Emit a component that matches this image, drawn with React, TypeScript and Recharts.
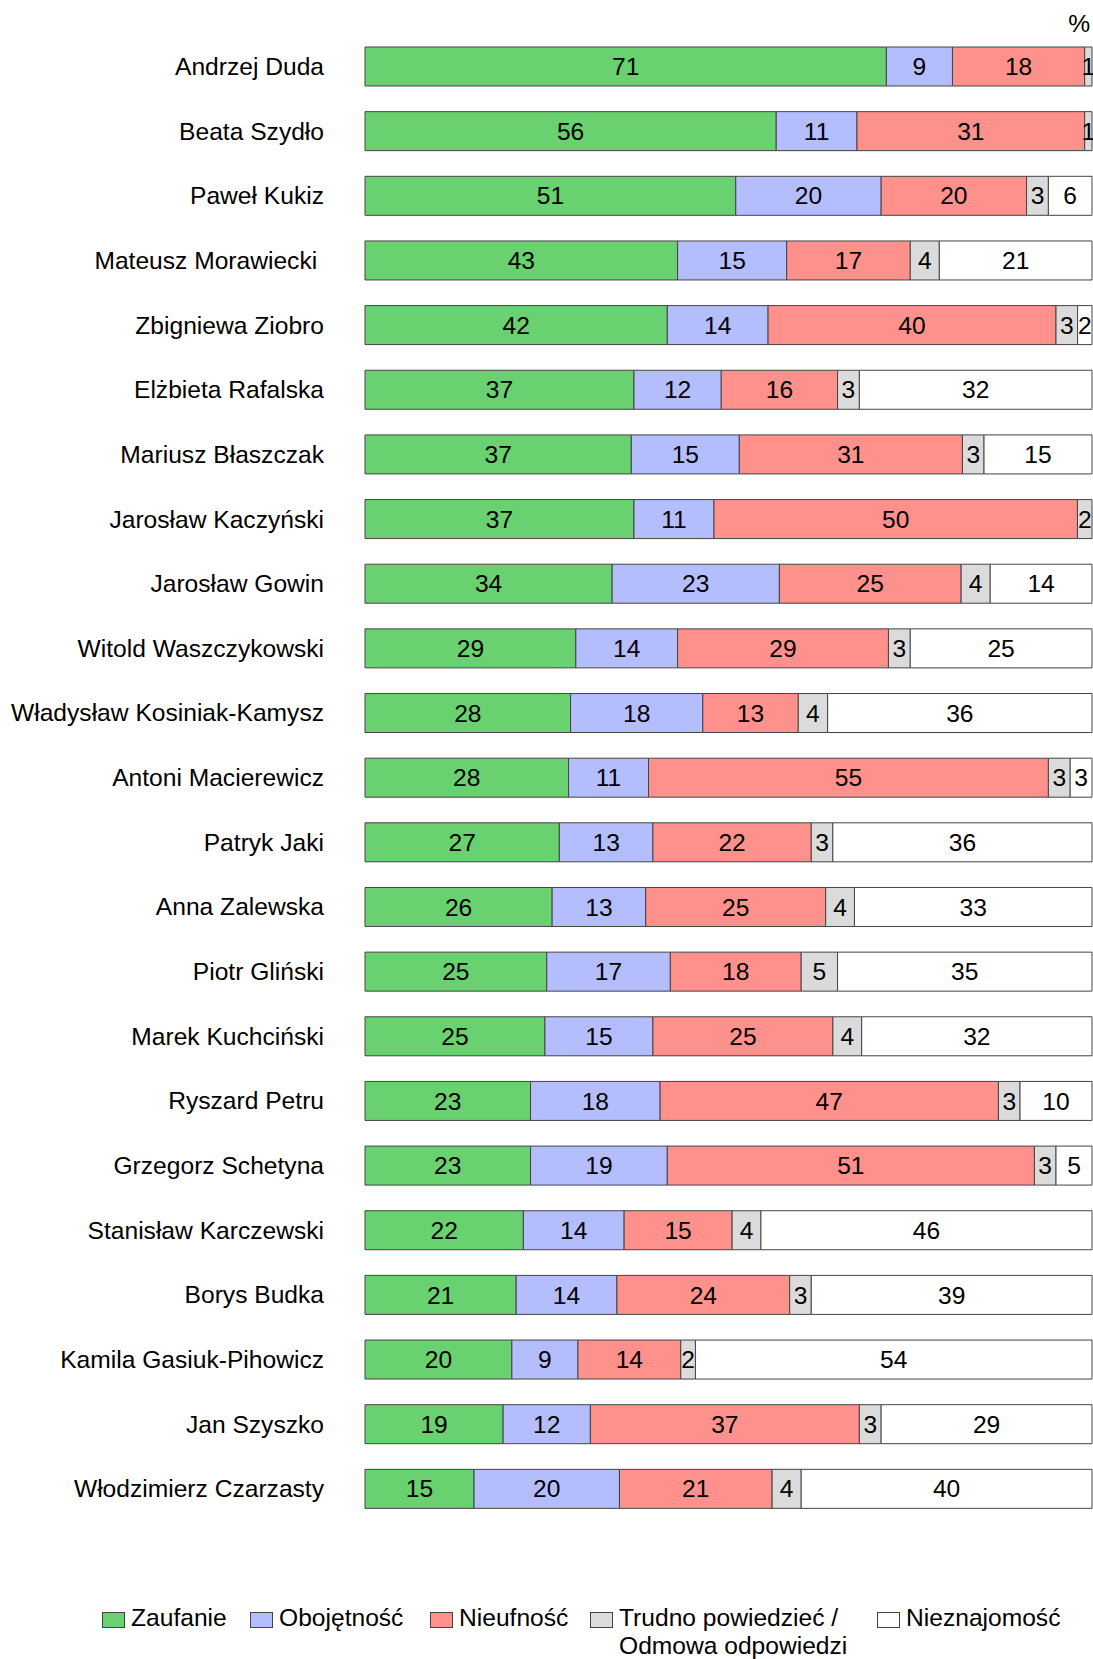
import React from 'react';
import { BarChart, Bar, XAxis, YAxis, LabelList } from 'recharts';

const names = [
  'Andrzej Duda',
  'Beata Szydło',
  'Paweł Kukiz',
  'Mateusz Morawiecki ',
  'Zbigniewa Ziobro',
  'Elżbieta Rafalska',
  'Mariusz Błaszczak',
  'Jarosław Kaczyński',
  'Jarosław Gowin',
  'Witold Waszczykowski',
  'Władysław Kosiniak-Kamysz',
  'Antoni Macierewicz',
  'Patryk Jaki',
  'Anna Zalewska',
  'Piotr Gliński',
  'Marek Kuchciński',
  'Ryszard Petru',
  'Grzegorz Schetyna',
  'Stanisław Karczewski',
  'Borys Budka',
  'Kamila Gasiuk-Pihowicz',
  'Jan Szyszko',
  'Włodzimierz Czarzasty',
];

const zaufanie = [71, 56, 51, 43, 42, 37, 37, 37, 34, 29, 28, 28, 27, 26, 25, 25, 23, 23, 22, 21, 20, 19, 15];
const obojetnosc = [9, 11, 20, 15, 14, 12, 15, 11, 23, 14, 18, 11, 13, 13, 17, 15, 18, 19, 14, 14, 9, 12, 20];
const nieufnosc = [18, 31, 20, 17, 40, 16, 31, 50, 25, 29, 13, 55, 22, 25, 18, 25, 47, 51, 15, 24, 14, 37, 21];
const trudno = [1, 1, 3, 4, 3, 3, 3, 2, 4, 3, 4, 3, 3, 4, 5, 4, 3, 3, 4, 3, 2, 3, 4];
const nieznajomosc = [0, 0, 6, 21, 2, 32, 15, 0, 14, 25, 36, 3, 36, 33, 35, 32, 10, 5, 46, 39, 54, 29, 40];

const seriesKeys = ['zaufanie', 'obojetnosc', 'nieufnosc', 'trudno', 'nieznajomosc'];
const seriesLabels = ['Zaufanie', 'Obojętność', 'Nieufność', 'Trudno powiedzieć /\nOdmowa odpowiedzi', 'Nieznajomość'];
const seriesColors = ['#69D16F', '#B4BEFF', '#FF918D', '#DBDBDB', '#FFFFFF'];

const data = names.map((name, i) => ({
  name,
  zaufanie: zaufanie[i],
  obojetnosc: obojetnosc[i],
  nieufnosc: nieufnosc[i],
  trudno: trudno[i],
  nieznajomosc: nieznajomosc[i],
}));

const FONT = '"Liberation Sans", Arial, Helvetica, sans-serif';
const FS = 24.6;

const renderValue = (props: any) => {
  const vb = props.viewBox || props;
  const { value } = props;
  if (!value) return null;
  const x = vb.x + vb.width / 2;
  const y = vb.y + vb.height / 2;
  return (
    <text x={x} y={y} dy="0.35em" textAnchor="middle" fontSize={FS} fill="#000" fontFamily={FONT}>
      {value}
    </text>
  );
};

const renderTick = (props: any) => {
  const { x, y, payload } = props;
  return (
    <text
      x={x}
      y={y}
      dy="0.35em"
      textAnchor="end"
      fontSize={FS}
      fill="#000"
      fontFamily={FONT}
      style={{ whiteSpace: 'pre' }}
    >
      {payload.value}
    </text>
  );
};

const legendLeft = [102, 250, 430, 590, 877];

export default function App() {
  return (
    <div style={{ position: 'absolute', left: 0, top: 0, width: 1093, height: 1659, background: '#fff', fontFamily: FONT }}>
      <BarChart
        width={1093}
        height={1659}
        data={data}
        layout="vertical"
        stackOffset="expand"
        margin={{ top: 34, right: 1, bottom: 138, left: 0 }}
      >
        <XAxis type="number" hide domain={[0, 1]} />
        <YAxis
          type="category"
          dataKey="name"
          width={365}
          axisLine={false}
          tickLine={false}
          tickSize={0}
          tickMargin={41}
          interval={0}
          tick={renderTick}
        />
        {seriesKeys.map((k, i) => (
          <Bar
            key={k}
            dataKey={k}
            stackId="a"
            fill={seriesColors[i]}
            stroke="#444"
            strokeWidth={1}
            barSize={39}
            isAnimationActive={false}
          >
            <LabelList dataKey={k} content={renderValue} />
          </Bar>
        ))}
        <text x={1090} y={32} textAnchor="end" fontSize={FS} fill="#000" fontFamily={FONT}>
          %
        </text>
      </BarChart>
      {seriesKeys.map((k, i) => (
        <div
          key={k}
          style={{
            position: 'absolute',
            left: legendLeft[i],
            top: 1604,
            display: 'flex',
            alignItems: 'flex-start',
            fontSize: FS,
            lineHeight: '28px',
            color: '#000',
            whiteSpace: 'pre',
          }}
        >
          <div
            style={{
              width: 21,
              height: 14,
              marginTop: 8,
              background: seriesColors[i],
              border: '1px solid #444',
              marginRight: 6,
              flexShrink: 0,
            }}
          />
          <div>{seriesLabels[i]}</div>
        </div>
      ))}
    </div>
  );
}
